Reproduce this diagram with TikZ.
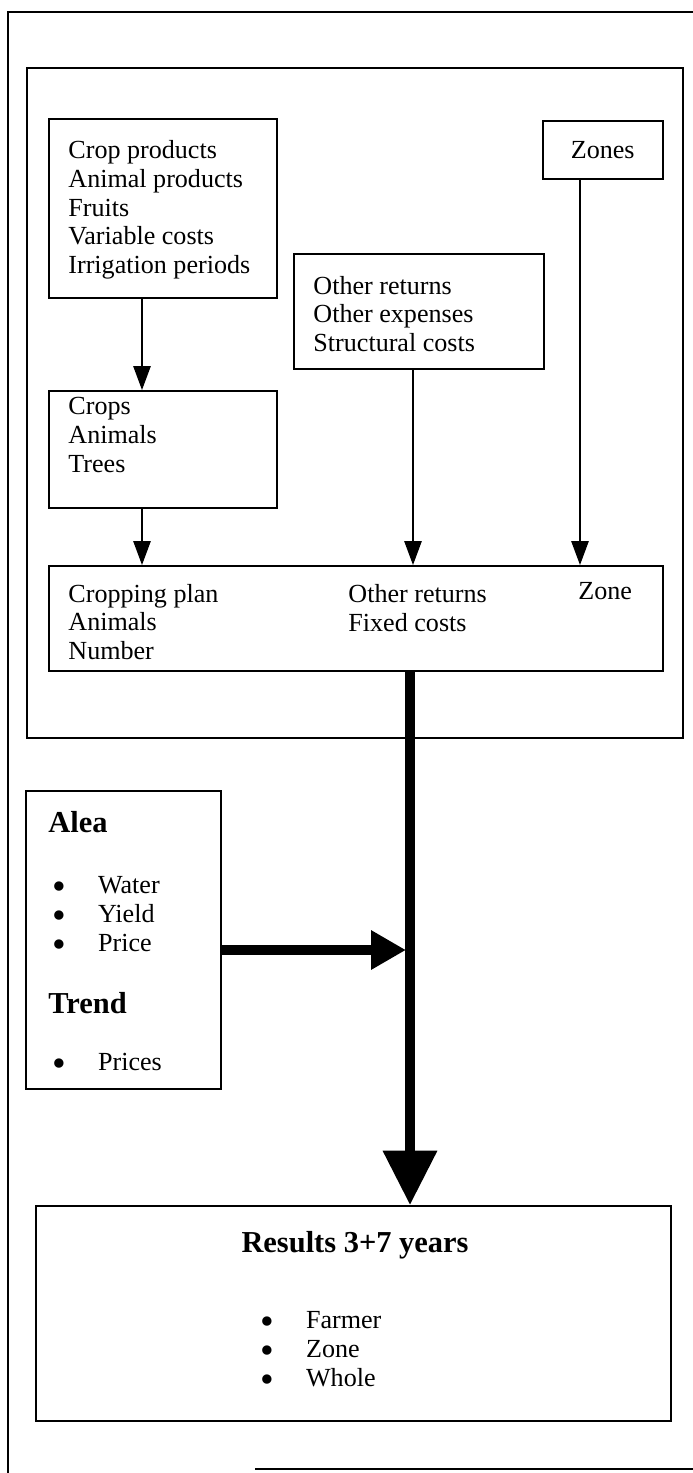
\documentclass[tikz,border=0pt]{standalone}
\usepackage{fontspec}
\setmainfont{Liberation Serif}
\usetikzlibrary{arrows.meta}
\newcommand{\bul}{\makebox[21pt][l]{\smash{\raisebox{-2.8pt}{\fontsize{18}{18}\selectfont\textbullet}}}}

\begin{document}
\begin{tikzpicture}[x=0.46pt,y=-0.46pt,
  font=\fontsize{12}{13.2}\selectfont,
  panel/.style 2 args={draw,line width=.7pt,inner sep=0pt,anchor=north west,
    minimum width=#1*0.46pt,minimum height=#2*0.46pt},
  lbl/.style={anchor=west,align=left,inner sep=0pt},
  head/.style={anchor=west,inner sep=0pt,font=\fontsize{14}{16}\selectfont\bfseries},
  flow/.style={line width=.6pt,-{Triangle[length=11pt,width=8pt]}},
  mainflow/.style={line width=4.4pt,-{Triangle[length=25pt,width=24pt]}},
  sideflow/.style={line width=4.4pt,-{Triangle[length=16pt,width=17pt]}}]
\path[use as bounding box] (0,0) rectangle (693,1473);
% frames
\draw[line width=.9pt] (693,12) -- (8,12) -- (8,1473);
\draw[line width=.9pt] (255,1469) -- (693,1469);
\draw[line width=.7pt] (27,68) rectangle (683,738);
% input boxes
\node[panel={228}{179}] (products) at (48,118) {};
\node[lbl] (productsT) at (68,210) {Crop products\\Animal products\\Fruits\\Variable costs\\Irrigation periods};
\node[panel={120}{58}] (zones) at (542,120) {Zones};
\node[panel={250}{115}] (others) at (293,253) {};
\node[lbl] (othersT) at (313,314) {Other returns\\Other expenses\\Structural costs};
\node[panel={228}{117}] (units) at (48,390) {};
\node[lbl] (unitsT) at (68,435) {Crops\\Animals\\Trees};
% farm box
\node[panel={614}{105}] (farm) at (48,565) {};
\node[lbl] (farmA) at (68,622) {Cropping plan\\Animals\\Number};
\node[lbl] (farmB) at (348,608) {Other returns\\Fixed costs};
\node[lbl] (farmC) at (578,591) {Zone};
% hazards
\node[panel={195}{298}] (alea) at (25,790) {};
\node[head] (aleaH) at (48,822) {Alea};
\node[lbl] (aleaL) at (52,914) {\bul Water\\\bul Yield\\\bul Price};
\node[head] (trendH) at (48,1003) {Trend};
\node[lbl] (trendL) at (52,1062) {\bul Prices};
% results
\node[panel={635}{215}] (res) at (35,1205) {};
\node[head,anchor=center] (resH) at (355,1245) {Results 3+7 years};
\node[lbl] (resL) at (260,1349) {\bul Farmer\\\bul Zone\\\bul Whole};
\coordinate (join) at (406,950);
% connectors
\draw[flow] (products.south -| 142,0) -- (units.north -| 142,0);
\draw[flow] (units.south -| 142,0) -- (farm.north -| 142,0);
\draw[flow] (others.south -| 413,0) -- (farm.north -| 413,0);
\draw[flow] (zones.south -| 580,0) -- (farm.north -| 580,0);
\draw[mainflow] (farm.south -| 410,0) -- (res.north -| 410,0);
\draw[sideflow] (alea.east |- join) -- (join);
\end{tikzpicture}
\end{document}
